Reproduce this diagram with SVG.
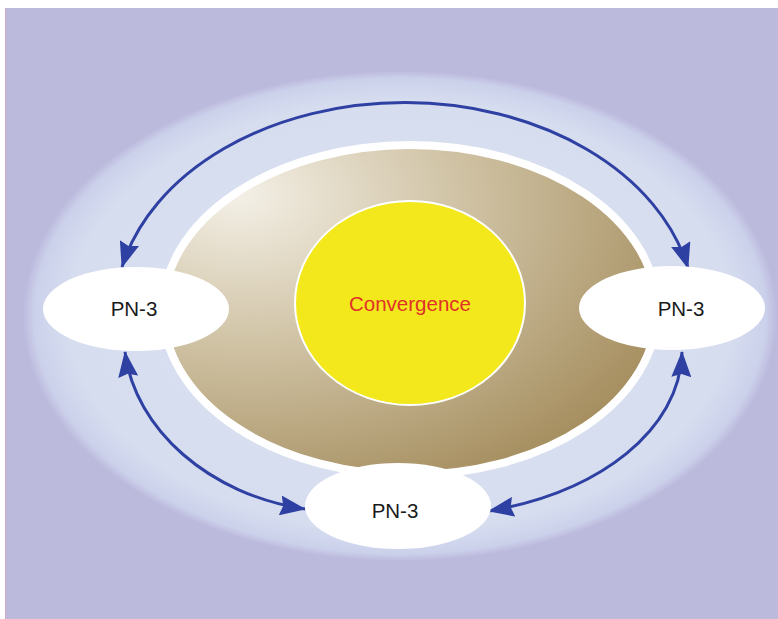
<svg xmlns="http://www.w3.org/2000/svg" width="778" height="619" viewBox="0 0 778 619">
<style>
.node{fill:#ffffff;}
.lbl{font-family:"Liberation Sans",Arial,sans-serif;font-size:20.5px;fill:#1a1a1a;text-anchor:middle;}
.conn{fill:none;stroke:#2f40a3;stroke-width:3;}
</style>
<defs>
<radialGradient id="glow" cx="0.5" cy="0.5" r="0.5">
<stop offset="0" stop-color="#dde3f1"/>
<stop offset="0.88" stop-color="#d6ddef"/>
<stop offset="0.97" stop-color="#ccd1eb"/>
<stop offset="1" stop-color="#bcbadd"/>
</radialGradient>
<radialGradient id="brown" cx="0.2" cy="0.2" r="0.95" fx="0.15" fy="0.15">
<stop offset="0" stop-color="#f4f0e7"/>
<stop offset="0.45" stop-color="#d0c3a5"/>
<stop offset="1" stop-color="#a38b5b"/>
</radialGradient>
<marker id="ah" viewBox="0 0 26 20" refX="25" refY="10" markerWidth="26" markerHeight="20" markerUnits="userSpaceOnUse" orient="auto-start-reverse">
<path d="M0,0 L26,10 L0,20 L3,10 Z" fill="#2f40a3"/>
</marker>
</defs>
<rect x="0" y="0" width="778" height="619" fill="#ffffff"/>
<rect x="5" y="8" width="773" height="611" fill="#bbb9dc"/>
<rect x="5" y="8" width="1.5" height="611" fill="#cdb0d0"/>
<ellipse cx="400" cy="316" rx="377" ry="245" fill="url(#glow)"/>
<ellipse cx="410" cy="310" rx="247" ry="165" fill="url(#brown)" stroke="#ffffff" stroke-width="8"/>
<g id="center">
<ellipse cx="410" cy="303" rx="115" ry="102" fill="#f3e81c" stroke="#ffffff" stroke-width="2"/>
<text x="410" y="311" class="lbl" style="fill:#e03228">Convergence</text>
</g>
<g id="connectors">
<path class="conn" d="M122,267 A290,211 0 0 1 688,268" marker-start="url(#ah)" marker-end="url(#ah)"/>
<path class="conn" d="M125,352 C135,430 210,495 305,509" marker-start="url(#ah)" marker-end="url(#ah)"/>
<path class="conn" d="M682,352 C680,430 600,492 489,511" marker-start="url(#ah)" marker-end="url(#ah)"/>
</g>
<g id="node-left">
<ellipse class="node" cx="136" cy="309" rx="93" ry="42"/>
<text x="134" y="316" class="lbl">PN-3</text>
</g>
<g id="node-right">
<ellipse class="node" cx="672" cy="308" rx="93" ry="42"/>
<text x="681" y="316" class="lbl">PN-3</text>
</g>
<g id="node-bottom">
<ellipse class="node" cx="398" cy="506" rx="93" ry="43"/>
<text x="395" y="518" class="lbl">PN-3</text>
</g>
</svg>
